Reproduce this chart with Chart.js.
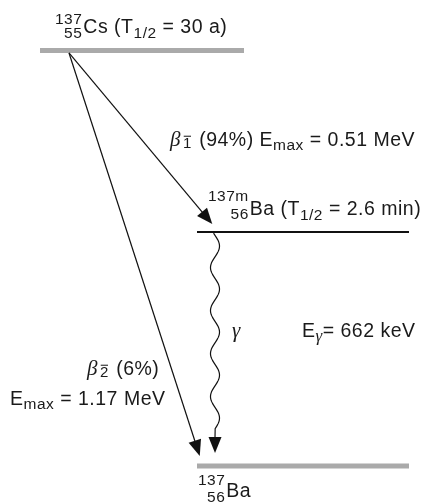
<!DOCTYPE html>
<html>
<head>
<meta charset="utf-8">
<script src="https://cdn.jsdelivr.net/npm/chart.js@4/dist/chart.umd.min.js"></script>
<style>
  html, body { margin: 0; background: #fff; }
</style>
</head>
<body>
<canvas id="scheme" width="424" height="502"></canvas>
<script>
// energy levels, keV above the 137Ba ground state
const levelSymbols = ["Cs", "Ba", "Ba"];
const levelMass = ["137", "137m", "137"];
const levelZ = ["55", "56", "56"];
const levelEnergies = [1176, 662, 0];
const levelHalfLives = ["30 a", "2.6 min", null];

// transitions (indices into the level arrays)
const transNames = ["beta1", "beta2", "gamma"];
const transFrom = [0, 0, 1];
const transTo = [1, 2, 2];
const transBranch = ["94%", "6%", null];
const transEnergy = ["0.51 MeV", "1.17 MeV", "662 keV"];

// layout (horizontal position is just a drawing column)
const levelSpan = [[40, 244], [197, 409], [197, 409]];
const levelColor = ["#aaaaaa", "#111111", "#aaaaaa"];
const levelWidth = [5, 2, 5];
const transX = [[69, 219], [69, 203], [215, 215]];
const transGap = [8, 10, 13];

const FONT = '"Liberation Sans", Arial, Helvetica, sans-serif';
const SERIF = '"Liberation Serif", "Times New Roman", serif';
const fonts = {
  main: `19.5px ${FONT}`,
  script: `15.5px ${FONT}`,
  small: `15px ${FONT}`,
  greek: `italic 21px ${SERIF}`,
  greekSub: `italic 17px ${SERIF}`,
};

function isotope(i, up, down) {
  return { stack: [levelMass[i], levelZ[i]], up, down, align: "right", font: "script" };
}
function halfLife(i) {
  return [{ t: " (T" }, { t: "1/2", font: "script", dy: 5 }, { t: ` = ${levelHalfLives[i]})` }];
}
function emax(i) {
  return [{ t: "E" }, { t: "max", font: "script", dy: 4 }, { t: ` = ${transEnergy[i]}` }];
}
function beta(n) {
  return [
    { t: "β", font: "greek", pad: 2 },
    { stack: ["−", String(n)], up: 5, down: 2, align: "left", font: "small" },
  ];
}

// text annotations, anchored in chart units (x column, y keV)
const annotations = [
  { x: 55, y: 1226, runs: [isotope(0, 9, 5), { t: levelSymbols[0] }, ...halfLife(0)] },
  { x: 170, y: 906, runs: [...beta(1), { t: ` (${transBranch[0]}) ` }, ...emax(0)] },
  { x: 208, y: 710, runs: [isotope(1, 14, 4), { t: levelSymbols[1] }, ...halfLife(1)] },
  { x: 232, y: 365, runs: [{ t: "γ", font: "greek" }] },
  { x: 302, y: 365, runs: [{ t: "E" }, { t: "γ", font: "greekSub", dy: 4 }, { t: "= " + transEnergy[2] }] },
  { x: 87, y: 258, runs: [...beta(2), { t: ` (${transBranch[1]})` }] },
  { x: 10, y: 173, runs: emax(1) },
  { x: 198, y: -88, runs: [isotope(2, 12, 5), { t: levelSymbols[2] }] },
];

function drawRuns(ctx, runs, x, y) {
  let cx = x;
  ctx.textBaseline = "alphabetic";
  ctx.textAlign = "left";
  for (const r of runs) {
    ctx.font = fonts[r.font || "main"];
    if (r.stack) {
      const w0 = ctx.measureText(r.stack[0]).width;
      const w1 = ctx.measureText(r.stack[1]).width;
      const w = Math.max(w0, w1);
      const right = r.align === "right";
      ctx.fillText(r.stack[0], right ? cx + w - w0 : cx, y - r.up);
      ctx.fillText(r.stack[1], right ? cx + w - w1 : cx, y + r.down);
      cx += w + 1;
    } else {
      ctx.fillText(r.t, cx, y + (r.dy || 0));
      cx += ctx.measureText(r.t).width;
    }
    cx += r.pad || 0;
  }
}

function arrowHead(ctx, tx, ty, ux, uy, len, half) {
  const bx = tx - ux * len, by = ty - uy * len;
  ctx.beginPath();
  ctx.moveTo(tx, ty);
  ctx.lineTo(bx - uy * half, by + ux * half);
  ctx.lineTo(bx + uy * half, by - ux * half);
  ctx.closePath();
  ctx.fill();
}

const decayPlugin = {
  id: "decay",
  afterDatasetsDraw(chart) {
    const { ctx, scales } = chart;
    const headLen = 16, headHalf = 6.5;
    ctx.save();
    ctx.strokeStyle = "#111";
    ctx.fillStyle = "#111";
    ctx.lineWidth = 1.2;

    transNames.forEach((name, i) => {
      const a = transFrom[i], b = transTo[i];
      const x0 = scales.x.getPixelForValue(transX[i][0]);
      const x1 = scales.x.getPixelForValue(transX[i][1]);
      const y0 = scales.y.getPixelForValue(levelEnergies[a]) + levelWidth[a] / 2;
      const yl = scales.y.getPixelForValue(levelEnergies[b]);
      const yt = yl - transGap[i];
      const t = (yt - y0) / (yl - y0);
      const tx = x0 + (x1 - x0) * t, ty = yt;
      const L = Math.hypot(tx - x0, ty - y0);
      const ux = (tx - x0) / L, uy = (ty - y0) / L;
      const bx = tx - ux * headLen, by = ty - uy * headLen;

      ctx.beginPath();
      if (name === "gamma") {
        // wavy photon line
        const P = 43, amp = 4.5, first = 13;
        let n = 0;
        while (first + P * (n + 1) + P / 4 <= by - y0 - 5) n++;
        const tEnd = first + P * n + P / 4;
        for (let s = 0; s <= tEnd; s += 0.5) {
          const px = x0 + amp * Math.sin((2 * Math.PI * (s - first)) / P + Math.PI / 2);
          if (s === 0) ctx.moveTo(px, y0 + s); else ctx.lineTo(px, y0 + s);
        }
        ctx.lineTo(bx, by + 1);
      } else {
        ctx.moveTo(x0, y0);
        ctx.lineTo(bx + ux, by + uy);
      }
      ctx.stroke();
      arrowHead(ctx, tx, ty, ux, uy, headLen, headHalf);
    });

    ctx.fillStyle = "#1a1a1a";
    ctx.letterSpacing = "0.5px";
    ctx.wordSpacing = "3px";
    annotations.forEach((an) => {
      drawRuns(ctx, an.runs, scales.x.getPixelForValue(an.x), scales.y.getPixelForValue(an.y));
    });
    ctx.restore();
  },
};

// y range chosen so the keV axis fills the canvas
const Y_MIN = -101.9, Y_MAX = 1318.9;

new Chart(document.getElementById("scheme"), {
  type: "scatter",
  data: {
    datasets: levelEnergies.map((e, i) => ({
      label: `${levelMass[i]}${levelSymbols[i]}`,
      data: [{ x: levelSpan[i][0], y: e }, { x: levelSpan[i][1], y: e }],
      showLine: true,
      borderColor: levelColor[i],
      borderWidth: levelWidth[i],
      borderCapStyle: "butt",
      pointRadius: 0,
    })),
  },
  options: {
    responsive: false,
    animation: false,
    layout: { padding: 0 },
    plugins: { legend: { display: false }, tooltip: { enabled: false } },
    scales: {
      x: { type: "linear", min: 0, max: 424, display: false },
      y: { type: "linear", min: Y_MIN, max: Y_MAX, display: false },
    },
  },
  plugins: [decayPlugin],
});
</script>
</body>
</html>
